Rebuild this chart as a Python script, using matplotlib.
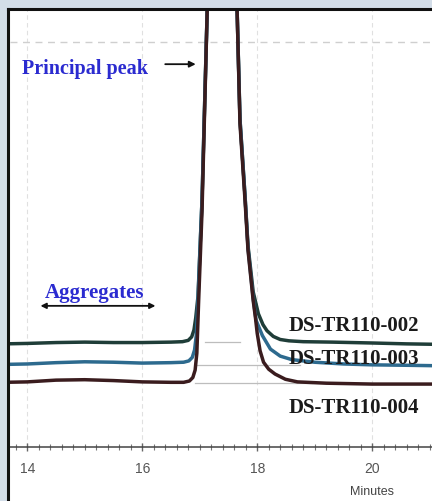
import matplotlib.pyplot as plt
import numpy as np
from matplotlib.patches import Rectangle
from matplotlib.ticker import MultipleLocator

# retention time (min) and detector signal for the three lots
t_002 = [13.60, 14.00, 14.50, 15.00, 15.50, 16.00, 16.50, 16.70, 16.80, 16.86,
         16.90, 16.93, 16.97, 17.04, 17.13, 17.39, 17.65, 17.70, 17.79, 17.84,
         17.93, 18.02, 18.10, 18.17, 18.28, 18.40, 18.55, 18.80, 19.30, 20.00,
         20.60, 21.10]
s_002 = [23.6, 23.7, 23.9, 24.0, 23.9, 23.9, 24.0, 24.1, 24.4, 25.2,
         26.8, 29.5, 34.5, 56.6, 100.0, 450.0, 100.0, 75.0, 57.0, 46.0,
         35.5, 30.5, 28.0, 26.6, 25.3, 24.6, 24.3, 24.1, 24.0, 23.8,
         23.6, 23.5]

t_003 = [13.60, 14.00, 14.50, 15.00, 15.50, 16.00, 16.50, 16.72, 16.81, 16.87,
         16.91, 16.94, 16.97, 17.04, 17.13, 17.39, 17.65, 17.70, 17.79, 17.84,
         17.93, 17.98, 18.09, 18.23, 18.40, 18.60, 19.00, 19.50, 20.00, 20.60,
         21.10]
s_003 = [18.9, 19.0, 19.3, 19.5, 19.4, 19.2, 19.3, 19.4, 19.7, 20.5,
         22.2, 25.5, 33.8, 56.6, 100.0, 450.0, 100.0, 75.0, 57.0, 45.5,
         34.0, 29.0, 25.5, 22.4, 20.8, 20.0, 19.4, 19.0, 18.8, 18.7,
         18.6]

t_004 = [13.60, 14.00, 14.50, 15.00, 15.50, 16.00, 16.50, 16.72, 16.82, 16.88,
         16.92, 16.95, 16.98, 17.04, 17.13, 17.39, 17.65, 17.70, 17.79, 17.84,
         17.93, 17.97, 18.00, 18.05, 18.11, 18.20, 18.31, 18.49, 18.70, 19.20,
         20.00, 21.10]
s_004 = [14.8, 14.9, 15.3, 15.4, 15.2, 14.9, 14.8, 14.8, 15.1, 15.9,
         17.6, 21.5, 33.0, 54.0, 100.0, 450.0, 100.0, 74.0, 56.0, 45.0,
         33.5, 29.5, 26.0, 22.0, 19.4, 17.8, 16.7, 15.5, 14.9, 14.6,
         14.4, 14.4]

lots = ['DS-TR110-002', 'DS-TR110-003', 'DS-TR110-004']
label_y = [26.8, 19.3, 8.0]

# integration baselines under the main peak
base_start = [17.10, 16.92, 16.92]
base_end = [17.70, 18.75, 18.95]
base_level = [24.0, 18.7, 14.6]

colors = ['#1f3d38', '#2d6a8e', '#3a1c1e']

fig = plt.figure(figsize=(4.32, 5.02), dpi=100)
fig.patch.set_facecolor('#d3dde8')

# white report panel with a dark frame on top and left
W, H = 432, 502
fig.patches.append(Rectangle((8 / W, 0), 1, 1 - 10 / H, transform=fig.transFigure,
                             facecolor='white', edgecolor='none', zorder=-1))
fig.add_artist(plt.Line2D([8 / W, 1], [1 - 10 / H, 1 - 10 / H], color='#111111',
                          lw=2.2, transform=fig.transFigure))
fig.add_artist(plt.Line2D([8 / W, 8 / W], [0, 1 - 10 / H], color='#111111',
                          lw=2.2, transform=fig.transFigure))

ax = fig.add_axes([10 / W, (H - 448) / H, 1 - 10 / W, (448 - 11) / H])
ax.set_facecolor('none')
ax.set_xlim(13.70, 21.04)
ax.set_ylim(0, 100)

for sp in ['top', 'right', 'left']:
    ax.spines[sp].set_visible(False)
ax.spines['bottom'].set_color('#444444')
ax.spines['bottom'].set_linewidth(1.1)

ax.xaxis.set_major_locator(MultipleLocator(2))
ax.xaxis.set_minor_locator(MultipleLocator(0.2))
ax.tick_params(axis='x', which='major', direction='inout', length=6, width=1.0,
               colors='#666666', labelcolor='#555555', labelsize=10, pad=7)
ax.tick_params(axis='x', which='minor', direction='inout', length=4, width=0.8,
               colors='#777777')
ax.set_yticks([])
for lab in ax.get_xticklabels():
    lab.set_family('Liberation Sans')

# faint chart-paper grid
for g in [14, 16, 18, 20]:
    ax.axvline(g, color='#e0e0e0', lw=0.8, ls=(0, (4, 3)), zorder=1)
ax.axhline(92.7, color='#cfcfcf', lw=1.0, ls=(0, (5, 4)), zorder=1)

for x0, x1, yb in zip(base_start, base_end, base_level):
    ax.plot([x0, x1], [yb, yb], color='#bdbdbd', lw=0.9, zorder=2)

for t, s, c, z in zip([t_002, t_003, t_004], [s_002, s_003, s_004], colors, [3, 4, 5]):
    ax.plot(t, s, color=c, lw=2.5, zorder=z, solid_capstyle='round')

serif = 'Liberation Serif'
for name, y in zip(lots, label_y):
    ax.text(18.54, y, name, family=serif, weight='bold', fontsize=15,
            color='#1a1a1a', va='baseline', ha='left', zorder=6)

ax.text(13.91, 85.6, 'Principal peak', family=serif, weight='bold', fontsize=14.5,
        color='#2b2bd0', va='baseline', ha='left')
ax.annotate('', xy=(16.93, 87.6), xytext=(16.40, 87.6),
            arrowprops=dict(arrowstyle='-|>', color='#111111', lw=1.3,
                            mutation_scale=9, shrinkA=0, shrinkB=0))

ax.text(14.31, 34.3, 'Aggregates', family=serif, weight='bold', fontsize=15,
        color='#2b2bd0', va='baseline', ha='left')
ax.annotate('', xy=(14.23, 32.3), xytext=(16.23, 32.3),
            arrowprops=dict(arrowstyle='<|-|>', color='#111111', lw=1.3,
                            mutation_scale=8, shrinkA=0, shrinkB=0))

fig.text(372 / W, 1 - 492 / H, 'Minutes', family='Liberation Sans', fontsize=9,
         color='#444444', ha='center', va='center')

fig.savefig('out.png', dpi=100, facecolor=fig.get_facecolor())
